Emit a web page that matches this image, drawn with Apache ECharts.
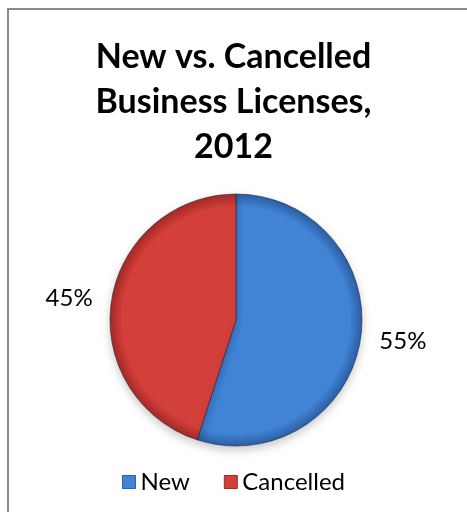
<!DOCTYPE html>
<html>
<head>
<meta charset="utf-8">
<script src="https://cdn.jsdelivr.net/npm/echarts@6/dist/echarts.min.js"></script>
<style>
  html, body { margin: 0; padding: 0; background: #fff; }
  #frame {
    position: absolute; left: 7px; top: 8px; width: 460px; height: 504px;
    border-left: 2px solid #8a8a8a; border-top: 2px solid #8a8a8a;
    box-sizing: border-box;
  }
  #chart { position: absolute; left: 0; top: 0; width: 467px; height: 512px; }
</style>
</head>
<body>
<div id="frame"></div>
<div id="chart"></div>
<script>
// Business licence activity, 2012
const titleText = 'New vs. Cancelled\nBusiness Licenses,\n2012';
const categories = ['New', 'Cancelled'];
const shares = [55, 45];
const sliceColors = [
  { light: '#4184d6', dark: '#2c5fa6' },
  { light: '#d33f3a', dark: '#a52a26' }
];

const pieCenter = [236, 320];
const pieRadius = 126;

const chart = echarts.init(document.getElementById('chart'), null, { renderer: 'canvas' });

// Flat fill with a slightly darker rim, shared across the whole disc
const pieData = categories.map((name, i) => ({
  name: name,
  value: shares[i],
  itemStyle: {
    color: {
      type: 'radial', global: true,
      x: pieCenter[0], y: pieCenter[1], r: pieRadius,
      colorStops: [
        { offset: 0, color: sliceColors[i].light },
        { offset: 0.9, color: sliceColors[i].light },
        { offset: 1, color: sliceColors[i].dark }
      ]
    }
  }
}));

chart.setOption({
  animation: false,
  backgroundColor: 'transparent',
  title: {
    text: titleText,
    left: 'center',
    top: 30,
    textStyle: {
      fontFamily: 'Lato',
      fontWeight: 'bold',
      fontSize: 34,
      lineHeight: 45,
      color: '#000'
    }
  },
  legend: {
    bottom: 13,
    left: 'center',
    itemWidth: 13,
    itemHeight: 13,
    itemGap: 34,
    icon: 'rect',
    textStyle: { fontFamily: 'Lato', fontSize: 24, color: '#000' },
    data: categories.map((name, i) => ({
      name: name,
      itemStyle: { color: sliceColors[i].light, borderColor: sliceColors[i].dark, borderWidth: 1 }
    }))
  },
  series: [{
    type: 'pie',
    center: pieCenter,
    radius: pieRadius,
    startAngle: 90,
    clockwise: true,
    data: pieData,
    itemStyle: {
      borderColor: 'rgba(30,30,50,0.55)',
      borderWidth: 1,
      shadowBlur: 10,
      shadowOffsetY: 4,
      shadowColor: 'rgba(0,0,0,0.22)'
    },
    label: {
      show: true,
      position: 'outside',
      formatter: '{d}%',
      fontFamily: 'Lato',
      fontSize: 24,
      color: '#000'
    },
    labelLine: { show: false, length: 10, length2: 4 },
    emphasis: { disabled: true }
  }]
});
</script>
</body>
</html>
